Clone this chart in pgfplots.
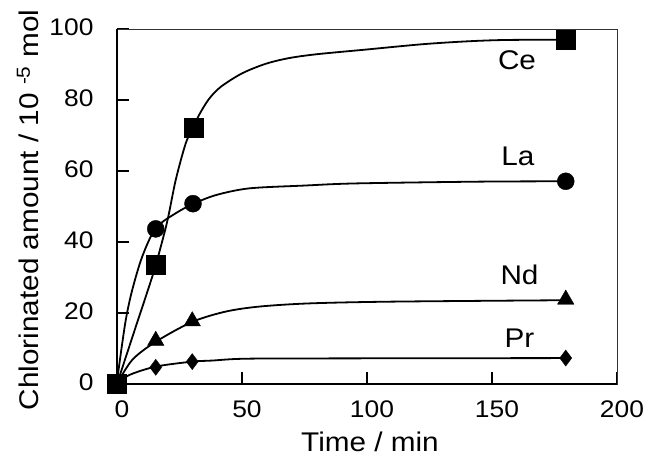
\documentclass[border=0pt]{standalone}
\usepackage{pgfplots}
\pgfplotsset{compat=1.18}
\usetikzlibrary{calc}
\usepackage{fontspec}
\setmainfont[FakeStretch=1.1]{Liberation Sans}
\begin{document}
\begin{tikzpicture}
\begin{axis}[name=ax, scale only axis, width=500pt, height=355pt,
 xmin=0, xmax=200, ymin=0, ymax=100,
 xtick={0,50,100,150,200}, ytick={0,20,40,60,80,100},
 tick pos=left, tick align=inside, major tick length=12pt,
 tick style={line width=1.2pt, black},
 axis line style={line width=0.8pt, black!80},
 /pgf/number format/assume math mode=true,
 tick label style={font=\fontsize{24}{27}\selectfont},
 xticklabel style={xshift=5pt, yshift=-13pt},
 yticklabel style={xshift=-20pt, yshift=2pt},
 label style={font=\fontsize{27}{30}\selectfont},
 xlabel={Time / min},
 ylabel={Chlorinated amount / 10 \textsuperscript{-5} mol},
 xlabel style={at={(axis description cs:0.506,-0.19)}, anchor=base, inner sep=0pt},
 ylabel style={at={(axis description cs:-0.156,0.49)}, anchor=base, inner sep=0pt},
 clip=false]
\draw[line width=1.6pt] (rel axis cs:0,1) -- (rel axis cs:0,0) -- (rel axis cs:1,0);
% fitted curves
\addplot[black, line width=1.8pt, smooth, tension=0.5] coordinates {
 (0,0) (7.5,16.1) (12.8,27.4) (15.5,33.5) (20,45.5) (23.5,57.5) (27.5,67.8) (30.5,72.3)
 (33,76) (36.8,80.3) (41.5,83.7) (50,87.5) (59.5,90.2) (68.8,91.8) (80,92.9)
 (99.5,94.2) (122,95.7) (139.5,96.5) (155,96.9) (179.5,97)};
\addplot[black, line width=1.8pt, smooth, tension=0.5] coordinates {
 (0,0) (0.8,4.9) (3.5,18) (6.1,26.5) (10.1,35.9) (15.5,43.9) (23.5,48.1) (30.4,50.7)
 (39.5,53.2) (52.8,55.1) (75,55.9) (95.5,56.5) (144.8,57.0) (179.5,57.1)};
\addplot[black, line width=1.8pt, smooth, tension=0.5] coordinates {
 (0,0) (6.1,6.8) (15.5,11.9) (30.1,17.5) (43.5,20.4) (56.8,21.8) (76.8,22.7)
 (110,23.2) (179.5,23.6)};
\addplot[black, line width=1.8pt, smooth, tension=0.5] coordinates {
 (0,0) (4.8,2.5) (15.5,4.9) (30.1,6.3) (38,6.6) (50,7.1) (76.8,7.2) (179.5,7.3)};
% measured points
\addplot[only marks, mark=*, mark size=8.5pt, black] coordinates {
 (0,0) (15.5,43.7) (30.4,50.8) (179.5,57.1)};
\addplot[only marks, mark=triangle*, mark size=9.5pt, black] coordinates {
 (0,0) (15.5,12.2) (30.1,17.7) (179.5,23.8)};
\addplot[only marks, mark=diamond*, mark size=8pt, black] coordinates {
 (0,0) (15.5,4.7) (30.1,6.3) (179.5,7.3)};
\addplot[only marks, mark=square*, mark size=9.5pt, black] coordinates {
 (0,0) (15.5,33.5) (30.5,72.3) (179.5,96.9)};
\node[font=\fontsize{27}{30}\selectfont] at (axis cs:160,91.3) {Ce};
\node[font=\fontsize{27}{30}\selectfont] at (axis cs:160.4,64) {La};
\node[font=\fontsize{27}{30}\selectfont] at (axis cs:161,30.7) {Nd};
\node[font=\fontsize{27}{30}\selectfont] at (axis cs:161,13) {Pr};
\end{axis}
\pgfresetboundingbox
\path ($(ax.south west)+(-117pt,-76pt)$) rectangle ($(ax.north east)+(32pt,29pt)$);
\end{tikzpicture}
\end{document}
